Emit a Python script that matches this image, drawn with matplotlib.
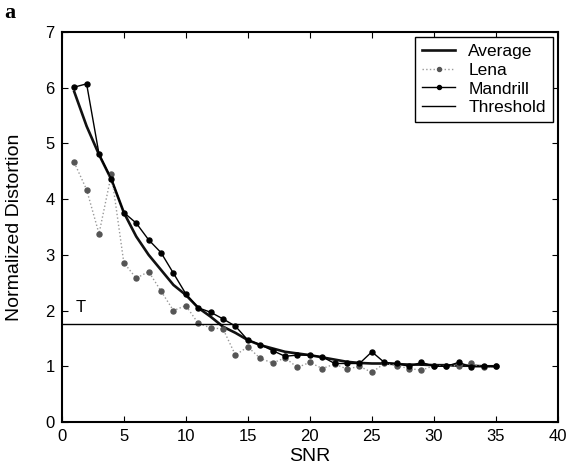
import matplotlib.pyplot as plt

plt.rcParams['font.family'] = ['Liberation Sans', 'DejaVu Sans']

# SNR values
snr = list(range(1, 36))

mandrill = [6.01, 6.07, 4.81, 4.36, 3.76, 3.57, 3.27, 3.04, 2.67, 2.30,
            2.05, 1.97, 1.85, 1.72, 1.47, 1.39, 1.28, 1.18, 1.20, 1.20,
            1.17, 1.05, 1.05, 1.05, 1.26, 1.07, 1.05, 1.00, 1.07, 1.00,
            1.00, 1.07, 0.99, 1.00, 1.00]

lena = [4.66, 4.17, 3.38, 4.45, 2.86, 2.58, 2.70, 2.35, 2.00, 2.09,
        1.77, 1.69, 1.67, 1.20, 1.35, 1.14, 1.06, 1.15, 0.98, 1.07,
        0.96, 1.04, 0.95, 1.00, 0.89, 1.05, 1.01, 0.96, 0.93, 1.01,
        1.01, 1.01, 1.05, 0.98, 1.00]

average = [5.93, 5.31, 4.80, 4.35, 3.76, 3.33, 3.00, 2.73, 2.46, 2.28,
           2.05, 1.89, 1.71, 1.60, 1.47, 1.38, 1.32, 1.26, 1.23, 1.20,
           1.16, 1.12, 1.08, 1.06, 1.05, 1.05, 1.04, 1.03, 1.03, 1.02,
           1.02, 1.01, 1.01, 1.00, 1.00]

threshold = 1.76

fig = plt.figure(figsize=(5.67, 4.75), dpi=100)
ax = fig.add_axes([0.109, 0.1116, 0.875, 0.821])

ax.plot(snr, average, color='#111111', linewidth=1.9, label='Average')
ax.plot(snr, lena, color='#999999', linestyle=':', linewidth=1.0,
        marker='o', markersize=3.6, markerfacecolor='#555555',
        markeredgecolor='#555555', label='Lena')
ax.plot(snr, mandrill, color='black', linewidth=1.0, marker='o',
        markersize=3.6, label='Mandrill')
ax.axhline(threshold, color='black', linewidth=1.0, label='Threshold')

ax.text(1.15, 1.97, 'T', fontsize=12)

ax.set_xlim(0, 40)
ax.set_ylim(0, 7)
ax.set_xticks(range(0, 41, 5))
ax.set_yticks(range(0, 8))
ax.tick_params(direction='in', top=True, right=True, labelsize=12,
               length=4, pad=5)
for s in ax.spines.values():
    s.set_linewidth(1.5)

ax.set_xlabel('SNR', fontsize=14, labelpad=3)
ax.set_ylabel('Normalized Distortion', fontsize=14, labelpad=16)

leg = ax.legend(loc='upper right', fontsize=12.5, fancybox=False,
                edgecolor='black', framealpha=1, borderaxespad=0.3,
                handlelength=1.9, handletextpad=0.75, labelspacing=0.2,
                borderpad=0.4, markerscale=0.8)
leg.get_frame().set_linewidth(1.0)

fig.text(0.008, 0.962, 'a', fontsize=16, fontweight='bold',
         family=['Liberation Serif', 'DejaVu Serif'])

plt.savefig('out.png', dpi=100)
